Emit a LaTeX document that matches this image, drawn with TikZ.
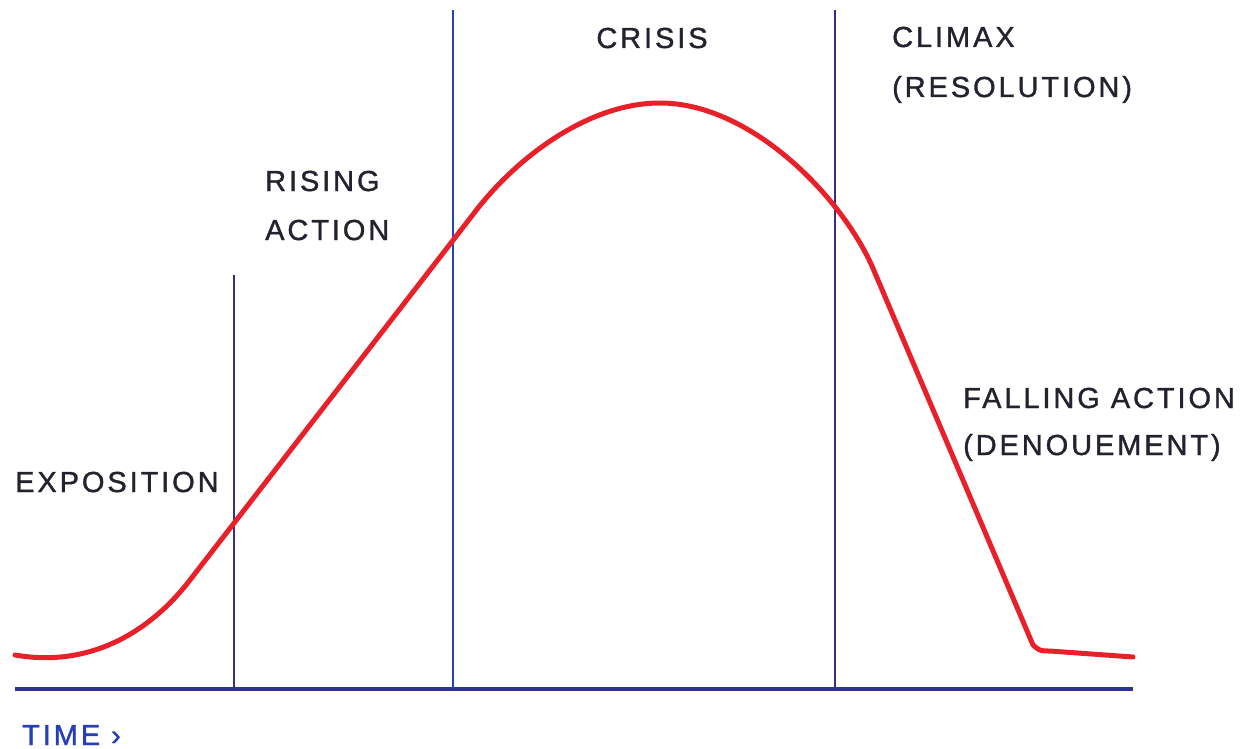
\documentclass[tikz,border=0pt]{standalone}
\usepackage{fontspec}
\setmainfont{Liberation Sans}[LetterSpace=10,FakeBold=1.2]
\usetikzlibrary{positioning}
\definecolor{arcred}{HTML}{E8202A}
\definecolor{axisblue}{HTML}{2E3196}
\definecolor{markblue}{HTML}{2442C4}
\definecolor{markpurple}{HTML}{3A2D84}
\definecolor{labelink}{HTML}{23232F}

\begin{document}
\begin{tikzpicture}[x=1pt,y=-1pt,
        phase/.style={anchor=base west,inner sep=0pt,text=labelink,font=\fontsize{29}{35}\selectfont},
        divider/.style={line width=2pt,markpurple},
        arc/.style={line width=5pt,arcred,line join=round,line cap=round}]
        \useasboundingbox(0,0)rectangle(1250,749);

        % time axis and the three dividers
        \coordinate(t0)at(15,689);
        \coordinate(t1)at(1133,689);
        \coordinate(d1)at(234,275);
        \coordinate(d2)at(453,10);
        \coordinate(d3)at(835,10);
        \draw[line width=4pt,axisblue](t0)--(t1);
        \draw[divider](d1)--(d1|-t0);
        \draw[divider,markblue](d2)--(d2|-t0);
        \draw[divider](d3)--(d3|-t0);

        % the story arc
        \draw[arc](15,655)..controls(90,668)and(150,632)..(190,580)--(478,208)
            ..controls(520,155)and(590,103)..(660,103)
            ..controls(750,103)and(840,195)..(872,266)--(1033,645)
            ..controls(1040,651)..(1050,651)--(1133,657);

        % labels
        \node[phase](expo)at(15,492){EXPOSITION};
        \node[phase](rising)at(265,191){RISING};
        \node[phase,below=49pt of rising.base west,anchor=base west](action){ACTION};
        \node[phase,anchor=base](crisis)at(652,48){CRISIS};
        \node[phase](climax)at(892,47){CLIMAX};
        \node[phase,below=50pt of climax.base west,anchor=base west](resol){(RESOLUTION)};
        \node[phase](falling)at(963,408){FALLING ACTION};
        \node[phase,below=47pt of falling.base west,anchor=base west](denoue){(DENOUEMENT)};
        \node[phase,text=markblue!80!axisblue](time)at(22,745){TIME ›};
    \end{tikzpicture}
\end{document}
